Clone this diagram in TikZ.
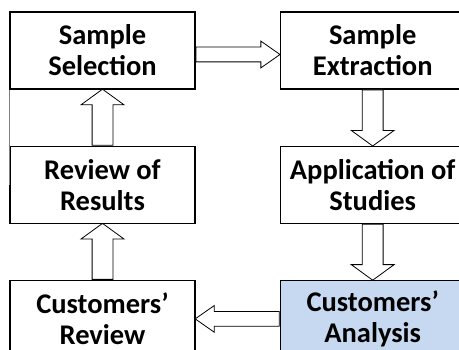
\documentclass[tikz,border=0pt]{standalone}
\usepackage{fontspec}
\setmainfont{Carlito}
\usepackage{xcolor}
\usetikzlibrary{shapes.arrows, positioning}

\definecolor{lightblue}{RGB}{198,217,240}

\begin{document}
\begin{tikzpicture}[x=1pt, y=1pt,
  stepbox/.style={rectangle, draw=black, line width=1.2pt, fill=white,
              align=center, minimum height=77pt, minimum width=185pt,
              font=\fontsize{28.5}{31}\selectfont\bfseries, inner sep=2pt},
  hibox/.style={stepbox, fill=lightblue},
  fatarrow/.style={single arrow, draw=black, line width=0.8pt, fill=white,
              inner xsep=0pt, single arrow head indent=0pt},
  harr/.style={fatarrow, inner ysep=7pt, minimum height=84pt,
              single arrow head extend=6pt, single arrow tip angle=70},
  varr/.style={fatarrow, inner ysep=10pt, minimum height=56pt,
              single arrow head extend=11pt, single arrow tip angle=108}
]
\useasboundingbox (0,0) rectangle (459,350);

\node[stepbox] (sel) at (102.5,299.5) {Sample\\Selection};
\node[stepbox, right=84pt of sel]  (ext) {Sample\\Extraction};
\node[stepbox, below=56pt of ext]  (app) {Application of\\Studies};
\node[hibox,   below=56pt of app]  (ana) {Customers'\\Analysis};
\node[stepbox, below=56pt of sel]  (res) {Review of\\Results};
\node[stepbox, below=56pt of res]  (rev) {Customers'\\Review};

% hollow block arrows between the steps
\node[harr, anchor=tail] (a1) at ([yshift=-4pt]sel.east) {};
\node[varr, anchor=tail, rotate=-90] (a2) at (ext.south) {};
\node[varr, anchor=tail, rotate=-90] (a3) at (app.south) {};
\node[harr, anchor=tail, rotate=180] (a4) at (ana.west) {};
\node[varr, anchor=tail, rotate=90] (a5) at (rev.north) {};
\node[varr, anchor=tail, rotate=90] (a6) at (res.north) {};

\draw[gray, line width=0.8pt] (sel.south west) -- (res.west);

\end{tikzpicture}
\end{document}
